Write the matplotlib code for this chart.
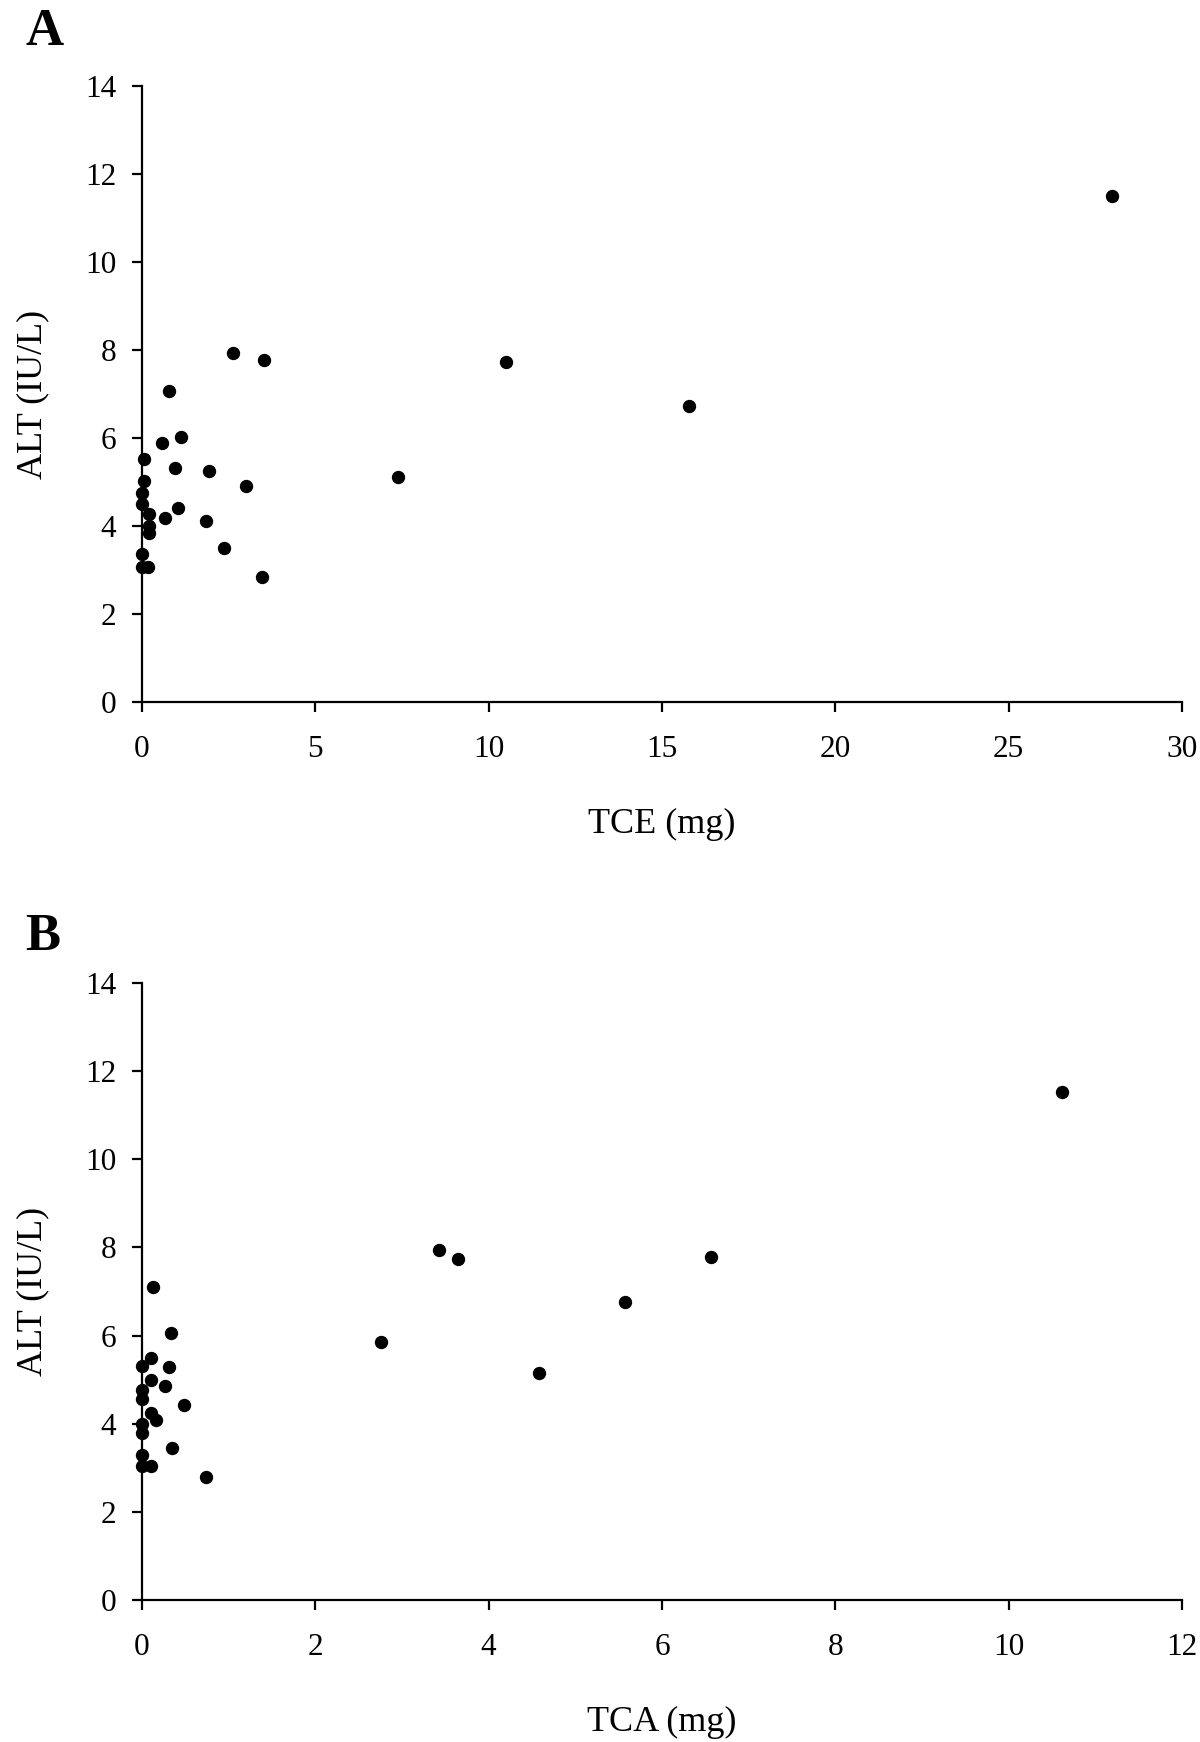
import matplotlib
matplotlib.use("Agg")
import matplotlib.pyplot as plt

plt.rcParams['font.family'] = ['Liberation Serif', 'DejaVu Serif']

# Panel A: TCE (mg) vs ALT (IU/L)
tce_mg = [2.64, 3.53, 0.77, 1.12, 0.58, 0.05, 0.94, 1.92, 7.38, 0.05, 2.99, 0.0, 0.0,
          1.04, 0.19, 0.67, 1.85, 0.19, 0.19, 2.37, 0.0, 0.0, 0.17, 3.45, 10.5, 15.78, 27.99]
alt_a = [7.93, 7.78, 7.08, 6.03, 5.89, 5.54, 5.33, 5.26, 5.12, 5.04, 4.91, 4.75, 4.52,
         4.41, 4.29, 4.20, 4.13, 4.02, 3.84, 3.50, 3.38, 3.07, 3.07, 2.85, 7.73, 6.74, 11.52]

# Panel B: TCA (mg) vs ALT (IU/L)
tca_mg = [3.43, 3.65, 6.57, 5.57, 4.58, 2.76, 10.61, 0.13, 0.34, 0.10, 0.0, 0.31, 0.10,
          0.27, 0.0, 0.0, 0.48, 0.10, 0.16, 0.0, 0.0, 0.35, 0.0, 0.0, 0.10, 0.74]
alt_b = [7.94, 7.74, 7.79, 6.76, 5.14, 5.85, 11.52, 7.11, 6.05, 5.49, 5.32, 5.29, 5.00,
         4.86, 4.77, 4.55, 4.43, 4.24, 4.09, 4.00, 3.80, 3.44, 3.30, 3.03, 3.03, 2.80]

xticks_a = [0, 5, 10, 15, 20, 25, 30]
xticks_b = [0, 2, 4, 6, 8, 10, 12]
yticks = [0, 2, 4, 6, 8, 10, 12, 14]

fig = plt.figure(figsize=(12, 17.42), dpi=100)
axA = fig.add_axes([0.1183, 0.5968, 0.8667, 0.3536])
axB = fig.add_axes([0.1183, 0.0815, 0.8667, 0.3542])

panels = [
    (axA, tce_mg, alt_a, xticks_a, "TCE (mg)", "A", 0.9742),
    (axB, tca_mg, alt_b, xticks_b, "TCA (mg)", "B", 0.4546),
]

for ax, xs, ys, xt, xl, letter, ly in panels:
    ax.plot(xs, ys, 'o', color='black', markersize=8.6, linestyle='none', clip_on=False, zorder=3)
    ax.set_xlim(xt[0], xt[-1])
    ax.set_ylim(0, 14)
    ax.set_xticks(xt)
    ax.set_yticks(yticks)
    for s in ['top', 'right']:
        ax.spines[s].set_visible(False)
    for s in ['left', 'bottom']:
        ax.spines[s].set_linewidth(1.6)
    ax.tick_params(axis='both', direction='out', length=7.5, width=1.6, labelsize=22.5)
    ax.tick_params(axis='x', pad=16)
    ax.tick_params(axis='y', pad=11)
    ax.set_xlabel(xl, fontsize=26)
    ax.set_ylabel("ALT (IU/L)", fontsize=26)
    ax.xaxis.set_label_coords(0.5, -0.198)
    ax.xaxis.label.set_va('center')
    ax.yaxis.set_label_coords(-0.105, 0.5)
    ax.yaxis.label.set_va('center')
    fig.text(0.021, ly, letter, fontsize=38, fontweight='bold', ha='left', va='baseline')

fig.savefig("out.png", dpi=100)
